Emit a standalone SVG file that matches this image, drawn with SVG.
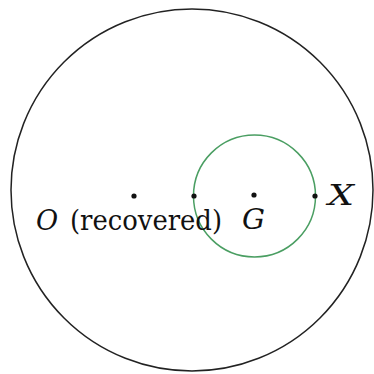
<svg xmlns="http://www.w3.org/2000/svg" width="374" height="374" viewBox="0 0 374 374">
<style>
.lbl{font-family:"DejaVu Serif","Liberation Serif",serif;font-size:27px;fill:#111}
.it{font-style:italic}
.dot{fill:#111}
</style>
<rect width="374" height="374" fill="#fff"/>
<g id="outer"><circle cx="192" cy="190" r="181" fill="none" stroke="#222" stroke-width="1.5"/></g>
<g id="green"><circle cx="254.5" cy="196" r="61" fill="none" stroke="#4a9e62" stroke-width="1.5"/></g>
<g id="O"><circle class="dot" cx="134" cy="196" r="2.6"/><text class="lbl" y="230"><tspan class="it" x="36">O</tspan><tspan x="70" textLength="152" lengthAdjust="spacingAndGlyphs">(recovered)</tspan></text></g>
<g id="P"><circle class="dot" cx="194" cy="196" r="2.6"/></g>
<g id="G"><circle class="dot" cx="254" cy="195" r="2.6"/><text class="lbl it" x="242" y="229" textLength="23" lengthAdjust="spacingAndGlyphs">G</text></g>
<g id="X"><circle class="dot" cx="315" cy="196" r="2.6"/><text class="lbl it" x="328" y="205" textLength="26" lengthAdjust="spacingAndGlyphs">X</text></g>
</svg>
